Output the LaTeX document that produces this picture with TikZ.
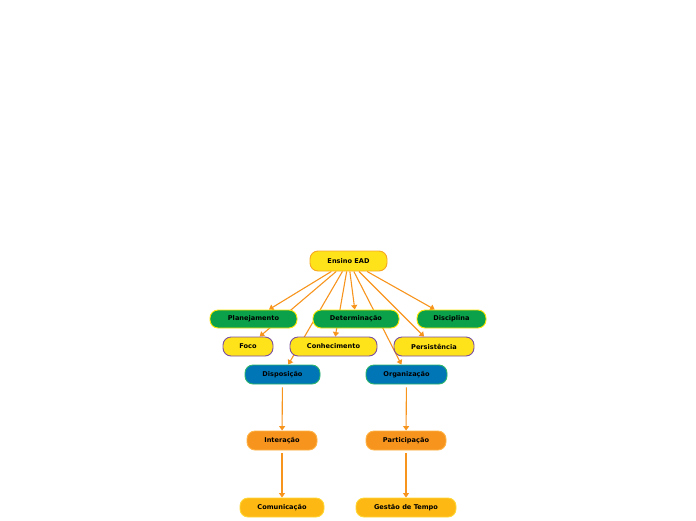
\documentclass[tikz,border=0pt]{standalone}
\usepackage{fontspec}
\setmainfont{DejaVu Sans}
\usetikzlibrary{arrows.meta}
\pgfdeclarelayer{background}
\pgfsetlayers{background,main}
\definecolor{cYel}{HTML}{FFE31A}
\definecolor{cYelB}{HTML}{F5A623}
\definecolor{cGrn}{HTML}{0BA14B}
\definecolor{cGrnB}{HTML}{FFE500}
\definecolor{cPur}{HTML}{7B4FA0}
\definecolor{cBlu}{HTML}{0076B6}
\definecolor{cBluB}{HTML}{2DB56B}
\definecolor{cOrg}{HTML}{F7941D}
\definecolor{cOrgB}{HTML}{FFB347}
\definecolor{cAmb}{HTML}{FDB813}
\definecolor{cAmbB}{HTML}{FFD633}
\definecolor{cLine}{HTML}{F7941D}
\tikzset{
  box/.style={rounded corners=8pt, inner sep=0pt, line width=0.9pt,
    font=\fontsize{6.6}{7.5}\selectfont\bfseries, text=black},
  root/.style={box, fill=cYel, draw=cYelB},
  green/.style={box, fill=cGrn, draw=cGrnB},
  yel/.style={box, fill=cYel, draw=cPur},
  blu/.style={box, fill=cBlu, draw=cBluB},
  org/.style={box, fill=cOrg, draw=cOrgB},
  amb/.style={box, fill=cAmb, draw=cAmbB},
  link/.style={draw=cLine, line width=1.1pt, -{Triangle[width=6pt,length=4.5pt]}},
}
\begin{document}
\begin{tikzpicture}[x=1pt,y=-1pt]
\useasboundingbox (0,0) rectangle (696,520);
\node[root, minimum width=77pt, minimum height=20pt] (ead) at (348.5,261) {Ensino EAD};
\node[green, minimum width=87pt, minimum height=18pt] (plan) at (253.5,319) {Planejamento};
\node[green, minimum width=86pt, minimum height=18pt] (det) at (356,319) {Determinação};
\node[green, minimum width=69pt, minimum height=18pt] (disc) at (451.5,319) {Disciplina};
\node[yel, minimum width=50pt, minimum height=19pt] (foco) at (248,346.5) {Foco};
\node[yel, minimum width=87pt, minimum height=19pt] (conh) at (333.5,346.5) {Conhecimento};
\node[yel, minimum width=80pt, minimum height=19pt] (pers) at (434,346.5) {Persistência};
\node[blu, minimum width=75pt, minimum height=19pt] (disp) at (282.5,374.5) {Disposição};
\node[blu, minimum width=81pt, minimum height=19pt] (orgz) at (406.5,374.5) {Organização};
\node[org, minimum width=70pt, minimum height=19pt] (inter) at (282,440.5) {Interação};
\node[org, minimum width=80pt, minimum height=19pt] (part) at (406,440.5) {Participação};
\node[amb, minimum width=84pt, minimum height=19pt] (com) at (282,507.5) {Comunicação};
\node[amb, minimum width=100pt, minimum height=19pt] (gest) at (406,507.5) {Gestão de Tempo};
\begin{pgfonlayer}{background}
\draw[link] (ead) -- (plan);
\draw[link] (ead) -- (foco);
\draw[link] (ead) -- (disp);
\draw[link] (ead) -- (conh);
\draw[link] (ead) -- (det);
\draw[link] (ead) -- (orgz);
\draw[link] (ead) -- (pers);
\draw[link] (ead) -- (disc);
\draw[link, shorten <=3pt] (disp) -- (inter);
\draw[link, shorten <=3pt] (inter) -- (com);
\draw[link, shorten <=3pt] (orgz) -- (part);
\draw[link, shorten <=3pt] (part) -- (gest);
\end{pgfonlayer}
\end{tikzpicture}
\end{document}
